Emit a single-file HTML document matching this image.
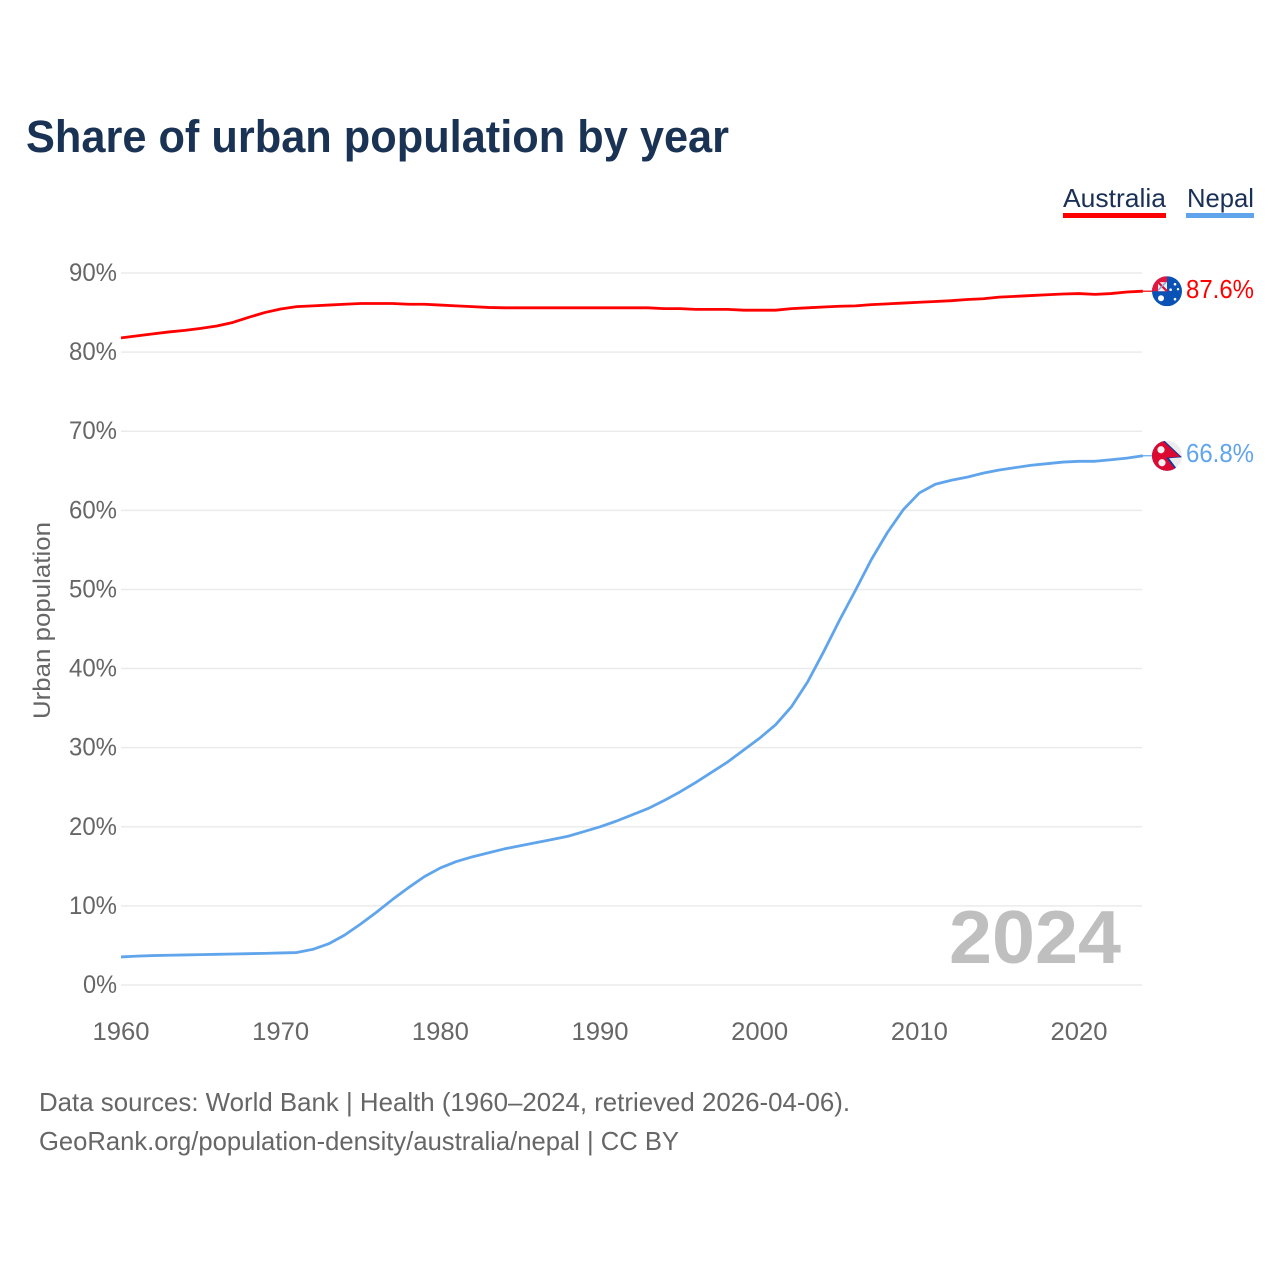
<!DOCTYPE html>
<html lang="en">
<head>
<meta charset="utf-8">
<title>Share of urban population by year</title>
<style>
html,body{margin:0;padding:0;background:#fff;width:1280px;height:1280px;overflow:hidden}
svg{display:block}
text{font-family:"Liberation Sans",sans-serif}
</style>
</head>
<body>
<svg id="chart" xmlns="http://www.w3.org/2000/svg" width="1280" height="1280" viewBox="0 0 1280 1280">
  <defs>
    <clipPath id="flag-clip-au"><circle cx="0" cy="0" r="15"/></clipPath>
    <clipPath id="flag-clip-np"><circle cx="0" cy="0" r="15"/></clipPath>
  </defs>
  <text x="26" y="152" font-size="45" font-weight="700" fill="#1a3354" textLength="703" lengthAdjust="spacingAndGlyphs">Share of urban population by year</text>

  <text x="1063" y="207" font-size="26" fill="#1a3056" textLength="103" lengthAdjust="spacingAndGlyphs">Australia</text>
  <rect x="1063" y="213" width="103" height="5" fill="#ff0000"/>
  <text x="1187" y="207" font-size="26" fill="#1a3056" textLength="67" lengthAdjust="spacingAndGlyphs">Nepal</text>
  <rect x="1186" y="213" width="68" height="5" fill="#60a5ec"/>

  <g id="grid"></g>
  <g id="y-ticks"></g>
  <g id="x-ticks"></g>

  <text transform="translate(50,719) rotate(-90)" x="0" y="0" font-size="24" fill="#666666" textLength="197" lengthAdjust="spacingAndGlyphs">Urban population</text>

  <text x="949" y="963" font-size="75" font-weight="700" fill="#bfbfbf" textLength="172" lengthAdjust="spacingAndGlyphs">2024</text>

  <g id="series"></g>

  <g id="flag-au">
    <g clip-path="url(#flag-clip-au)">
      <rect x="-15" y="-15" width="30" height="30" fill="#0a52b5"/>
      <rect x="-15" y="-15" width="15" height="15" fill="#e3173e"/>
      <rect x="-9" y="-9" width="9" height="9" fill="#f2f2f2"/>
      <path d="M-9 -9 L0 0" stroke="#d8103a" stroke-width="2.2"/>
      <path d="M-9 -1 L-1 -9" stroke="#8d9fd0" stroke-width="1.4"/>
      <circle cx="-6" cy="7" r="3" fill="#fff"/>
      <circle cx="3.6" cy="-1.5" r="1.3" fill="#fff"/>
      <circle cx="8" cy="-7" r="1.3" fill="#fff"/>
      <circle cx="11" cy="-2" r="1.2" fill="#fff"/>
      <circle cx="8" cy="8" r="1.3" fill="#fff"/>
    </g>
  </g>

  <g id="flag-np">
    <g clip-path="url(#flag-clip-np)">
      <rect x="-15" y="-15" width="30" height="30" fill="#ececec"/>
      <path d="M-16 -16 L-3.5 -16 L15 1.5 L2 2.5 L9.5 12.5 L9.5 16 L-16 16 Z" fill="#0b3a9a"/>
      <path d="M-16 -16 L-5.5 -16 L13 1 L-1 2 L8 13 L8 16 L-16 16 Z" fill="#dc0a32"/>
      <circle cx="-6" cy="-6" r="3.6" fill="#f3f3f3"/>
      <circle cx="-5" cy="7" r="3.6" fill="#f3f3f3"/>
    </g>
  </g>

  <text id="value-au" x="1186" y="297" font-size="26" fill="#ff0000" textLength="68" lengthAdjust="spacingAndGlyphs">87.6%</text>
  <text id="value-np" x="1186" y="461" font-size="26" fill="#60a5ec" textLength="68" lengthAdjust="spacingAndGlyphs">66.8%</text>

  <text x="39" y="1111" font-size="26" fill="#666666" textLength="811" lengthAdjust="spacingAndGlyphs">Data sources: World Bank | Health (1960–2024, retrieved 2026-04-06).</text>
  <text x="39" y="1150" font-size="26" fill="#666666" textLength="640" lengthAdjust="spacingAndGlyphs">GeoRank.org/population-density/australia/nepal | CC BY</text>
</svg>
<script>
const startYear = 1960;
const australiaValues = [
  81.8,82.05,82.3,82.55,82.75,83.0,83.3,83.75,84.4,85.0,85.45,85.75,
  85.85,85.95,86.05,86.15,86.15,86.15,86.05,86.05,85.95,85.85,85.75,85.65,85.6,
  85.6,85.6,85.6,85.6,85.6,85.6,85.6,85.6,85.6,85.5,85.5,85.4,85.4,85.4,85.3,
  85.3,85.3,85.5,85.6,85.7,85.8,85.85,86.0,86.1,86.2,86.3,86.4,86.5,86.65,86.75,
  86.95,87.05,87.15,87.25,87.35,87.4,87.3,87.4,87.6,87.7
];
const nepalValues = [
  3.55,3.65,3.72,3.76,3.8,3.84,3.88,3.92,3.96,4.0,4.05,4.1,
  4.5,5.2,6.3,7.7,9.2,10.8,12.3,13.7,14.8,15.6,16.2,16.7,17.2,
  17.6,18.0,18.4,18.8,19.4,20.0,20.7,21.5,22.3,23.3,24.4,25.6,26.9,28.2,29.7,
  31.2,32.9,35.2,38.3,42.1,46.1,49.9,53.8,57.2,60.1,62.2,63.3,63.8,64.2,64.7,
  65.1,65.4,65.7,65.9,66.1,66.2,66.2,66.4,66.6,66.9
];
const yTickValues = [0,10,20,30,40,50,60,70,80,90];
const yTickLabels = ["0%","10%","20%","30%","40%","50%","60%","70%","80%","90%"];
const xTickValues = [1960,1970,1980,1990,2000,2010,2020];
const xTickLabels = ["1960","1970","1980","1990","2000","2010","2020"];

const NS = "http://www.w3.org/2000/svg";
function xScale(year){ return 121 + (year - 1960) * 15.967; }
function yScale(value){ return 985 - value * 7.911; }

const grid = document.getElementById("grid");
const yTicks = document.getElementById("y-ticks");
yTickValues.forEach(function(v, i){
  const line = document.createElementNS(NS, "line");
  
  
  line.setAttribute("x1", 121);
  line.setAttribute("x2", 1142);
  line.setAttribute("y1", yScale(v));
  line.setAttribute("y2", yScale(v));
  line.setAttribute("stroke", "#ebebeb");
  line.setAttribute("stroke-width", "1.5");
  grid.appendChild(line);

  const label = document.createElementNS(NS, "text");
  
  
  label.setAttribute("x", 117);
  label.setAttribute("y", yScale(v) + 8);
  label.setAttribute("text-anchor", "end");
  label.setAttribute("font-size", "25");
  label.setAttribute("fill", "#666666");
  label.setAttribute("textLength", v === 0 ? "34" : "48");
  label.setAttribute("lengthAdjust", "spacingAndGlyphs");
  label.textContent = yTickLabels[i];
  yTicks.appendChild(label);
});

const xTicks = document.getElementById("x-ticks");
xTickValues.forEach(function(v, i){
  const label = document.createElementNS(NS, "text");
  
  
  label.setAttribute("x", xScale(v));
  label.setAttribute("y", 1040);
  label.setAttribute("text-anchor", "middle");
  label.setAttribute("font-size", "25");
  label.setAttribute("fill", "#666666");
  label.setAttribute("textLength", "57");
  label.setAttribute("lengthAdjust", "spacingAndGlyphs");
  label.textContent = xTickLabels[i];
  xTicks.appendChild(label);
});

function pointsFor(values){
  return values.map(function(v, i){
    return xScale(startYear + i).toFixed(2) + "," + yScale(v).toFixed(2);
  }).join(" ");
}

const seriesGroup = document.getElementById("series");

const australiaLine = document.createElementNS(NS, "polyline");


australiaLine.setAttribute("points", pointsFor(australiaValues));
australiaLine.setAttribute("fill", "none");
australiaLine.setAttribute("stroke", "#ff0000");
australiaLine.setAttribute("stroke-width", "2.8");
australiaLine.setAttribute("stroke-linejoin", "round");
seriesGroup.appendChild(australiaLine);

const nepalLine = document.createElementNS(NS, "polyline");


nepalLine.setAttribute("points", pointsFor(nepalValues));
nepalLine.setAttribute("fill", "none");
nepalLine.setAttribute("stroke", "#60a5ec");
nepalLine.setAttribute("stroke-width", "2.8");
nepalLine.setAttribute("stroke-linejoin", "round");
seriesGroup.appendChild(nepalLine);

const auLast = yScale(australiaValues[australiaValues.length - 1]);
const npLast = yScale(nepalValues[nepalValues.length - 1]);

const auConnector = document.createElementNS(NS, "line");


auConnector.setAttribute("x1", xScale(2024));
auConnector.setAttribute("x2", 1152);
auConnector.setAttribute("y1", auLast);
auConnector.setAttribute("y2", auLast);
auConnector.setAttribute("stroke", "#ff0000");
auConnector.setAttribute("stroke-width", "1.2");
seriesGroup.appendChild(auConnector);

const npConnector = document.createElementNS(NS, "line");


npConnector.setAttribute("x1", xScale(2024));
npConnector.setAttribute("x2", 1152);
npConnector.setAttribute("y1", npLast);
npConnector.setAttribute("y2", npLast);
npConnector.setAttribute("stroke", "#60a5ec");
npConnector.setAttribute("stroke-width", "1.2");
seriesGroup.appendChild(npConnector);

document.getElementById("flag-au").setAttribute("transform", "translate(1167," + auLast + ")");
document.getElementById("flag-np").setAttribute("transform", "translate(1167," + npLast + ")");
document.getElementById("value-au").setAttribute("y", auLast + 7);
document.getElementById("value-np").setAttribute("y", npLast + 6);
</script>
</body>
</html>
